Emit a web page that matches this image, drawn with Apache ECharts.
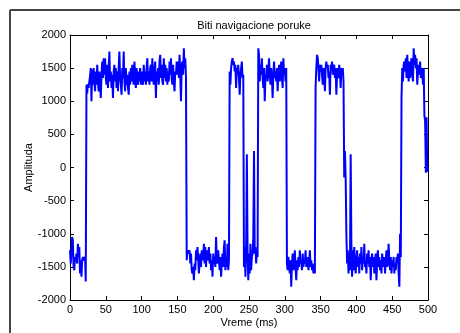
<!DOCTYPE html>
<html>
<head>
<meta charset="utf-8">
<script src="https://cdn.jsdelivr.net/npm/echarts@6/dist/echarts.min.js"></script>
<style>
  html, body { margin: 0; padding: 0; background: #fff; }
  #chart { width: 460px; height: 333px; }
</style>
</head>
<body>
<div id="chart"></div>
<script>
// amplitude samples, one per ms
const amp000 = [
  -1250,-1450,-1300,-1050,-1100,-1500,-1550,-1350,-1400,-1300,
  -1450,-1150,-1350,-1200,-1600,-1400,-1650,-1400,-1350,-1400,
  -1400,-1350,-1720,1250,1120,1260,1200,1300,1380,1500,
  1000,1480,1250,1500,1300,1150,1450,1250,1550,1300,
  1150,1450,1250,1050,1400,1600,1350,1650,1400,1650,
  1350,1250,1550,1200,1500,1750,1300,1450,1200,1400,
  1050,1450,1550,1300,1500,1200,1450,1150,1500,1750,
  1350,1250,1100,1500,1350,1750,1300,1150,1500,1250,
  1400,1200,1100,1450,1250,1500,1300,1550,1350,1250,
  1600,1350,1200,1500,1300,1250,1450,1300,1500,1250
];
const amp100 = [
  1450,1300,1250,1550,1300,1450,1250,1500,1650,1300,
  1450,1250,1500,1550,1300,1650,1350,1250,1500,1600,
  1050,1450,1300,1500,1250,1600,1700,1350,1550,1300,
  1250,1650,1350,1550,1300,1500,1250,1450,1300,1600,
  1400,1650,1350,1250,1550,1300,1150,1450,1400,1600,
  1400,1600,1350,1700,1400,1000,1550,1600,1400,1800,
  1500,1650,1350,-1400,-1250,-1250,-1300,-1250,-1450,-1300,
  -1550,-1600,-1500,-1700,-1450,-1550,-1250,-1400,-1200,-1350,
  -1600,-1450,-1300,-1500,-1250,-1400,-1350,-1150,-1450,-1200,
  -1500,-1250,-1400,-1350,-1200,-1450,-1300,-1550,-1400,-1650
];
const amp200 = [
  -1300,-1450,-1350,-1500,-1050,-1350,-1450,-1250,-1400,-1550,
  -1350,-1650,-1450,-1300,-1500,-1200,-1100,-1550,-1400,-1500,
  -1150,-1550,-1400,1450,1250,1500,1600,1650,1550,1600,
  1450,1550,1200,1500,1400,1550,1350,1100,1400,1500,
  1600,1350,1400,-1500,-1200,-1650,-1200,200,-1250,-1700,
  -1300,-1600,-1150,-1550,-1350,-1300,-1050,250,-1300,-1200,
  -1450,-1250,-1350,1800,1700,1300,1550,1400,1650,1350,
  1200,1500,1000,1400,1350,1550,1300,1450,1650,1400,
  1250,1500,1350,1050,1400,1600,1350,1450,1300,1500,
  1150,1400,1550,1300,1450,1600,1350,1200,1650,1400
];
const amp300 = [
  1500,1300,1500,-1450,-1550,-1350,-1500,-1600,-1400,-1800,
  -1450,-1300,-1550,-1450,-1250,-1500,-1700,-1400,-1550,-1350,
  -1500,-1250,-1450,-1400,-1550,-1300,-1500,-1400,-1450,-1250,
  -1500,-1400,-1350,-1550,-1450,-1250,-1500,-1400,-1550,-1450,
  -1600,-1500,-1600,1200,1500,1700,1650,1500,1300,1550,
  1450,1550,1400,1250,1500,1400,1150,1500,1600,1500,
  1550,1350,1450,1100,1550,1500,1600,1400,1500,1550,
  1350,1500,1100,1400,1500,1350,1550,1450,1200,1500,
  1450,1500,1300,-150,250,-150,-1000,-1450,-1250,-1600,
  -1300,-1550,200,-1150,-1650,-1250,-1550,-1200,-1450,-1600
];
const amp400 = [
  -1400,-1250,-1500,-1350,-1600,-1300,-1450,-1200,-1550,-1350,
  -1450,-1150,-1500,-1400,-1600,-1300,-1450,-1250,-1500,-1350,
  -1700,-1400,-1300,-1500,-1350,-1600,-1450,-1300,-1700,-1400,
  -1250,-1500,-1350,-1550,-1400,-1600,-1300,-1450,-1500,-1350,
  -1600,-1400,-1250,-1500,-1450,-1150,-1400,-1550,-1350,-1600,
  -1400,-1500,-1350,-1600,-1450,-1550,-1350,-1400,-1300,-1600,
  -1800,-1000,-1350,1050,1500,1300,1550,1600,1450,1650,
  1350,1700,1500,1300,1600,1350,1550,1650,1400,1300,
  1800,1550,1700,1500,1650,1250,1450,1550,1400,1600,
  1350,1500,1450,1250,1500,780,700,-80,760,-60,0
];
const xTicks = [0, 500, 50];      // min, max, step
const yTicks = [-2000, 2000, 500];

const amplitude = amp000.concat(amp100, amp200, amp300, amp400);
const points = amplitude.map((v, i) => [i, v]);

const chart = echarts.init(document.getElementById('chart'));
const font = 'Liberation Sans, Arial, sans-serif';
const tickAxis = {
  axisLine: { show: true, onZero: false, lineStyle: { color: '#000', width: 1 } },
  axisTick: { show: true, inside: true, length: 4, lineStyle: { color: '#000' } },
  splitLine: { show: false }
};

chart.setOption({
  animation: false,
  backgroundColor: '#fff',
  title: {
    text: 'Biti navigacione poruke',
    left: 249, textAlign: 'center', top: 15,
    textStyle: { fontFamily: font, fontSize: 11, fontWeight: 'normal', color: '#000' }
  },
  grid: { left: 70, right: 32, top: 35, bottom: 31 },
  xAxis: [
    Object.assign({
      type: 'value', min: xTicks[0], max: xTicks[1], interval: xTicks[2],
      position: 'bottom',
      name: 'Vreme (ms)', nameLocation: 'middle', nameGap: 17, nameMoveOverlap: false,
      nameTextStyle: { fontFamily: font, fontSize: 11, color: '#000' },
      axisLabel: { fontFamily: font, fontSize: 11, color: '#000', margin: 4 }
    }, tickAxis),
    Object.assign({
      type: 'value', min: xTicks[0], max: xTicks[1], interval: xTicks[2],
      position: 'top', axisLabel: { show: false }
    }, tickAxis)
  ],
  yAxis: [
    Object.assign({
      type: 'value', min: yTicks[0], max: yTicks[1], interval: yTicks[2],
      position: 'left',
      name: 'Amplituda', nameLocation: 'middle', nameGap: 36, nameMoveOverlap: false,
      nameTextStyle: { fontFamily: font, fontSize: 11, color: '#000' },
      axisLabel: {
        fontFamily: font, fontSize: 11, color: '#000', margin: 4,
        formatter: v => String(v)
      }
    }, tickAxis),
    Object.assign({
      type: 'value', min: yTicks[0], max: yTicks[1], interval: yTicks[2],
      position: 'right', axisLabel: { show: false }
    }, tickAxis)
  ],
  series: [{
    type: 'line',
    data: points,
    showSymbol: false,
    lineStyle: { color: '#0000ff', width: 2 },
    itemStyle: { color: '#0000ff' }
  }],
  graphic: [
    { type: 'line', shape: { x1: 10, y1: 10, x2: 460, y2: 10 }, style: { stroke: '#444', lineWidth: 2 } },
    { type: 'line', shape: { x1: 10, y1: 10, x2: 10, y2: 333 }, style: { stroke: '#444', lineWidth: 2 } }
  ]
});
</script>
</body>
</html>
